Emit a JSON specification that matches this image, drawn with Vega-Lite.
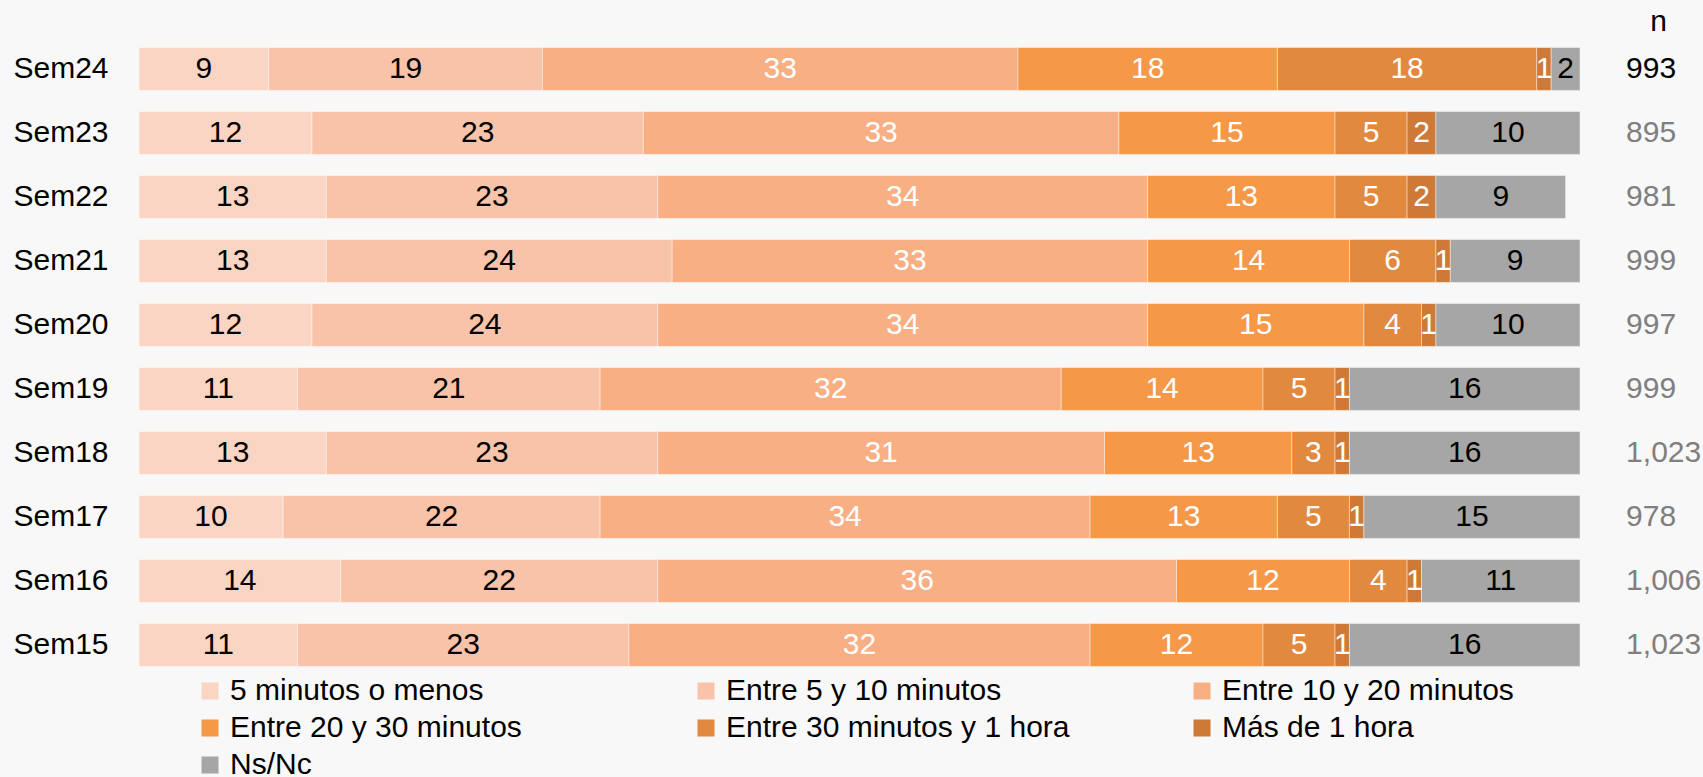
{
  "$schema": "https://vega.github.io/schema/vega-lite/v6.json",
  "width": 1441,
  "height": 640,
  "autosize": "none",
  "padding": {"left": 139, "top": 37, "right": 123, "bottom": 100},
  "background": "#F8F8F8",
  "config": {
    "view": {"stroke": null},
    "font": "Liberation Sans"
  },
  "datasets": {
    "seg": [
      {"sem": "Sem24", "cat": "5 minutos o menos", "ord": 1, "v": 9},
      {"sem": "Sem24", "cat": "Entre 5 y 10 minutos", "ord": 2, "v": 19},
      {"sem": "Sem24", "cat": "Entre 10 y 20 minutos", "ord": 3, "v": 33},
      {"sem": "Sem24", "cat": "Entre 20 y 30 minutos", "ord": 4, "v": 18},
      {"sem": "Sem24", "cat": "Entre 30 minutos y 1 hora", "ord": 5, "v": 18},
      {"sem": "Sem24", "cat": "Más de 1 hora", "ord": 6, "v": 1},
      {"sem": "Sem24", "cat": "Ns/Nc", "ord": 7, "v": 2},
      {"sem": "Sem23", "cat": "5 minutos o menos", "ord": 1, "v": 12},
      {"sem": "Sem23", "cat": "Entre 5 y 10 minutos", "ord": 2, "v": 23},
      {"sem": "Sem23", "cat": "Entre 10 y 20 minutos", "ord": 3, "v": 33},
      {"sem": "Sem23", "cat": "Entre 20 y 30 minutos", "ord": 4, "v": 15},
      {"sem": "Sem23", "cat": "Entre 30 minutos y 1 hora", "ord": 5, "v": 5},
      {"sem": "Sem23", "cat": "Más de 1 hora", "ord": 6, "v": 2},
      {"sem": "Sem23", "cat": "Ns/Nc", "ord": 7, "v": 10},
      {"sem": "Sem22", "cat": "5 minutos o menos", "ord": 1, "v": 13},
      {"sem": "Sem22", "cat": "Entre 5 y 10 minutos", "ord": 2, "v": 23},
      {"sem": "Sem22", "cat": "Entre 10 y 20 minutos", "ord": 3, "v": 34},
      {"sem": "Sem22", "cat": "Entre 20 y 30 minutos", "ord": 4, "v": 13},
      {"sem": "Sem22", "cat": "Entre 30 minutos y 1 hora", "ord": 5, "v": 5},
      {"sem": "Sem22", "cat": "Más de 1 hora", "ord": 6, "v": 2},
      {"sem": "Sem22", "cat": "Ns/Nc", "ord": 7, "v": 9},
      {"sem": "Sem21", "cat": "5 minutos o menos", "ord": 1, "v": 13},
      {"sem": "Sem21", "cat": "Entre 5 y 10 minutos", "ord": 2, "v": 24},
      {"sem": "Sem21", "cat": "Entre 10 y 20 minutos", "ord": 3, "v": 33},
      {"sem": "Sem21", "cat": "Entre 20 y 30 minutos", "ord": 4, "v": 14},
      {"sem": "Sem21", "cat": "Entre 30 minutos y 1 hora", "ord": 5, "v": 6},
      {"sem": "Sem21", "cat": "Más de 1 hora", "ord": 6, "v": 1},
      {"sem": "Sem21", "cat": "Ns/Nc", "ord": 7, "v": 9},
      {"sem": "Sem20", "cat": "5 minutos o menos", "ord": 1, "v": 12},
      {"sem": "Sem20", "cat": "Entre 5 y 10 minutos", "ord": 2, "v": 24},
      {"sem": "Sem20", "cat": "Entre 10 y 20 minutos", "ord": 3, "v": 34},
      {"sem": "Sem20", "cat": "Entre 20 y 30 minutos", "ord": 4, "v": 15},
      {"sem": "Sem20", "cat": "Entre 30 minutos y 1 hora", "ord": 5, "v": 4},
      {"sem": "Sem20", "cat": "Más de 1 hora", "ord": 6, "v": 1},
      {"sem": "Sem20", "cat": "Ns/Nc", "ord": 7, "v": 10},
      {"sem": "Sem19", "cat": "5 minutos o menos", "ord": 1, "v": 11},
      {"sem": "Sem19", "cat": "Entre 5 y 10 minutos", "ord": 2, "v": 21},
      {"sem": "Sem19", "cat": "Entre 10 y 20 minutos", "ord": 3, "v": 32},
      {"sem": "Sem19", "cat": "Entre 20 y 30 minutos", "ord": 4, "v": 14},
      {"sem": "Sem19", "cat": "Entre 30 minutos y 1 hora", "ord": 5, "v": 5},
      {"sem": "Sem19", "cat": "Más de 1 hora", "ord": 6, "v": 1},
      {"sem": "Sem19", "cat": "Ns/Nc", "ord": 7, "v": 16},
      {"sem": "Sem18", "cat": "5 minutos o menos", "ord": 1, "v": 13},
      {"sem": "Sem18", "cat": "Entre 5 y 10 minutos", "ord": 2, "v": 23},
      {"sem": "Sem18", "cat": "Entre 10 y 20 minutos", "ord": 3, "v": 31},
      {"sem": "Sem18", "cat": "Entre 20 y 30 minutos", "ord": 4, "v": 13},
      {"sem": "Sem18", "cat": "Entre 30 minutos y 1 hora", "ord": 5, "v": 3},
      {"sem": "Sem18", "cat": "Más de 1 hora", "ord": 6, "v": 1},
      {"sem": "Sem18", "cat": "Ns/Nc", "ord": 7, "v": 16},
      {"sem": "Sem17", "cat": "5 minutos o menos", "ord": 1, "v": 10},
      {"sem": "Sem17", "cat": "Entre 5 y 10 minutos", "ord": 2, "v": 22},
      {"sem": "Sem17", "cat": "Entre 10 y 20 minutos", "ord": 3, "v": 34},
      {"sem": "Sem17", "cat": "Entre 20 y 30 minutos", "ord": 4, "v": 13},
      {"sem": "Sem17", "cat": "Entre 30 minutos y 1 hora", "ord": 5, "v": 5},
      {"sem": "Sem17", "cat": "Más de 1 hora", "ord": 6, "v": 1},
      {"sem": "Sem17", "cat": "Ns/Nc", "ord": 7, "v": 15},
      {"sem": "Sem16", "cat": "5 minutos o menos", "ord": 1, "v": 14},
      {"sem": "Sem16", "cat": "Entre 5 y 10 minutos", "ord": 2, "v": 22},
      {"sem": "Sem16", "cat": "Entre 10 y 20 minutos", "ord": 3, "v": 36},
      {"sem": "Sem16", "cat": "Entre 20 y 30 minutos", "ord": 4, "v": 12},
      {"sem": "Sem16", "cat": "Entre 30 minutos y 1 hora", "ord": 5, "v": 4},
      {"sem": "Sem16", "cat": "Más de 1 hora", "ord": 6, "v": 1},
      {"sem": "Sem16", "cat": "Ns/Nc", "ord": 7, "v": 11},
      {"sem": "Sem15", "cat": "5 minutos o menos", "ord": 1, "v": 11},
      {"sem": "Sem15", "cat": "Entre 5 y 10 minutos", "ord": 2, "v": 23},
      {"sem": "Sem15", "cat": "Entre 10 y 20 minutos", "ord": 3, "v": 32},
      {"sem": "Sem15", "cat": "Entre 20 y 30 minutos", "ord": 4, "v": 12},
      {"sem": "Sem15", "cat": "Entre 30 minutos y 1 hora", "ord": 5, "v": 5},
      {"sem": "Sem15", "cat": "Más de 1 hora", "ord": 6, "v": 1},
      {"sem": "Sem15", "cat": "Ns/Nc", "ord": 7, "v": 16}
    ],
    "ns": [
      {"sem": "Sem24", "n": 993, "latest": true},
      {"sem": "Sem23", "n": 895, "latest": false},
      {"sem": "Sem22", "n": 981, "latest": false},
      {"sem": "Sem21", "n": 999, "latest": false},
      {"sem": "Sem20", "n": 997, "latest": false},
      {"sem": "Sem19", "n": 999, "latest": false},
      {"sem": "Sem18", "n": 1023, "latest": false},
      {"sem": "Sem17", "n": 978, "latest": false},
      {"sem": "Sem16", "n": 1006, "latest": false},
      {"sem": "Sem15", "n": 1023, "latest": false}
    ]
  },
  "layer": [
    {
      "data": {"name": "seg"},
      "mark": {"type": "bar", "stroke": "#FFFFFF", "strokeWidth": 0.6, "strokeOpacity": 0.7},
      "encoding": {
        "y": {
          "field": "sem", "type": "nominal",
          "sort": ["Sem24", "Sem23", "Sem22", "Sem21", "Sem20", "Sem19", "Sem18", "Sem17", "Sem16", "Sem15"],
          "scale": {"paddingInner": 0.33, "paddingOuter": 0.165},
          "axis": {
            "title": null, "ticks": false, "domain": false,
            "labelFontSize": 30, "labelColor": "#000000", "labelFont": "Liberation Sans",
            "labelAlign": "left", "labelPadding": 126
          }
        },
        "x": {
          "field": "v", "type": "quantitative", "stack": "zero",
          "scale": {"domain": [0, 100], "nice": false, "zero": true},
          "axis": {
            "orient": "top", "labels": false, "ticks": false, "domain": false, "grid": false,
            "title": "n", "titleX": 1519, "titleY": -7, "titleAlign": "center",
            "titleBaseline": "alphabetic", "titleFontSize": 30, "titleFontWeight": "normal",
            "titleColor": "#000000", "titleFont": "Liberation Sans"
          }
        },
        "color": {
          "field": "cat", "type": "nominal",
          "scale": {
            "domain": ["5 minutos o menos", "Entre 5 y 10 minutos", "Entre 10 y 20 minutos", "Entre 20 y 30 minutos", "Entre 30 minutos y 1 hora", "Más de 1 hora", "Ns/Nc"],
            "range": ["#FBD5C4", "#F9C3A9", "#F8AF84", "#F59848", "#E28940", "#CD7A38", "#A6A6A6"]
          },
          "legend": {
            "title": null, "orient": "none", "legendX": 56, "legendY": 639,
            "direction": "horizontal", "columns": 3, "gridAlign": "all",
            "columnPadding": 117, "rowPadding": 7, "padding": 0,
            "symbolType": "square", "symbolSize": 289, "symbolStrokeWidth": 0,
            "labelFontSize": 30, "labelFont": "Liberation Sans", "labelColor": "#000000",
            "labelOffset": 5, "labelLimit": 1000
          }
        },
        "order": {"field": "ord", "type": "quantitative"}
      }
    },
    {
      "data": {"name": "seg"},
      "transform": [
        {"stack": "v", "groupby": ["sem"], "sort": [{"field": "ord"}], "as": ["s0", "s1"]},
        {"calculate": "(datum.s0 + datum.s1) / 2", "as": "mid"}
      ],
      "mark": {"type": "text", "fontSize": 30, "font": "Liberation Sans", "baseline": "middle", "align": "center"},
      "encoding": {
        "y": {"field": "sem", "type": "nominal", "sort": ["Sem24", "Sem23", "Sem22", "Sem21", "Sem20", "Sem19", "Sem18", "Sem17", "Sem16", "Sem15"]},
        "x": {"field": "mid", "type": "quantitative", "scale": {"domain": [0, 100], "nice": false}},
        "text": {"field": "v", "type": "quantitative"},
        "color": {
          "condition": {"test": "datum.ord >= 3 && datum.ord <= 6", "value": "#FFFFFF"},
          "value": "#000000"
        }
      }
    },
    {
      "data": {"name": "ns"},
      "mark": {"type": "text", "fontSize": 30, "font": "Liberation Sans", "baseline": "middle", "align": "left"},
      "encoding": {
        "y": {"field": "sem", "type": "nominal", "sort": ["Sem24", "Sem23", "Sem22", "Sem21", "Sem20", "Sem19", "Sem18", "Sem17", "Sem16", "Sem15"]},
        "x": {"datum": 103.2, "type": "quantitative", "scale": {"domain": [0, 100], "nice": false}},
        "text": {"field": "n", "type": "quantitative", "format": ","},
        "color": {
          "condition": {"test": "datum.latest", "value": "#000000"},
          "value": "#7F7F7F"
        }
      }
    }
  ]
}
